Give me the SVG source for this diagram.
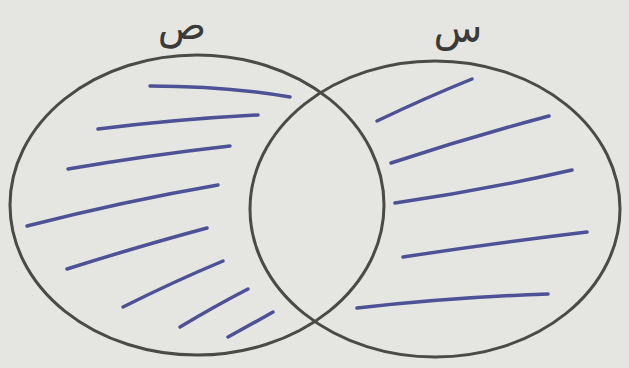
<svg xmlns="http://www.w3.org/2000/svg" width="629" height="368" viewBox="0 0 629 368">
  <style>
    .bg { fill: #e5e6e1; }
    .set { fill: none; stroke: #4a4a47; stroke-width: 3; }
    .hatch { fill: none; stroke: #4d5195; stroke-width: 3.5; stroke-linecap: round; }
    .label { font-family: "DejaVu Sans", "Noto Sans", sans-serif; font-size: 40px; fill: #3a3a38; text-anchor: middle; }
  </style>
  <rect class="bg" x="0" y="0" width="629" height="368"/>
  <g id="set-sad">
    <ellipse class="set" cx="197" cy="205" rx="187" ry="150"/>
    <text class="label" x="182" y="39">ص</text>
    <g id="hatch-sad">
      <path class="hatch" d="M150 86 Q225 86 290 97"/>
      <path class="hatch" d="M98 129 Q180 119 258 115"/>
      <path class="hatch" d="M68 169 Q150 155 230 146"/>
      <path class="hatch" d="M27 226 Q125 201 218 185"/>
      <path class="hatch" d="M67 269 Q140 246 207 228"/>
      <path class="hatch" d="M123 307 Q175 281 223 261"/>
      <path class="hatch" d="M180 327 Q215 306 248 289"/>
      <path class="hatch" d="M228 337 Q252 324 273 312"/>
    </g>
  </g>
  <g id="set-sin">
    <ellipse class="set" cx="435" cy="209" rx="185" ry="148"/>
    <text class="label" x="458" y="42">س</text>
    <g id="hatch-sin">
      <path class="hatch" d="M377 121 Q425 98 472 79"/>
      <path class="hatch" d="M391 163 Q470 137 549 116"/>
      <path class="hatch" d="M395 203 Q485 190 572 170"/>
      <path class="hatch" d="M403 257 Q495 243 587 232"/>
      <path class="hatch" d="M357 308 Q455 297 548 294"/>
    </g>
  </g>
  <g id="connectors"/>
</svg>
